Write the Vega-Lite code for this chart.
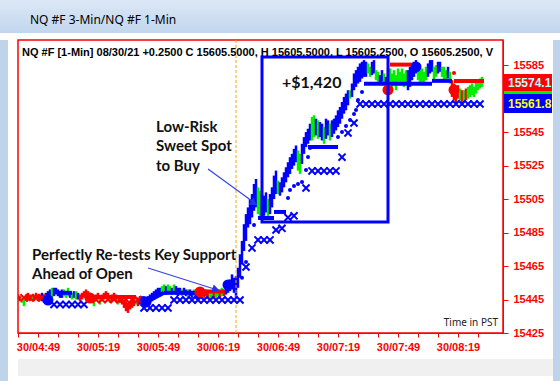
{
  "$schema": "https://vega.github.io/schema/vega-lite/v6.json",
  "padding": 0,
  "background": "white",
  "config": {"view": {"stroke": null}},
  "spacing": 5,
  "vconcat": [
    {
      "width": 560,
      "height": 33,
      "view": {"fill": "#c8dbef", "stroke": null},
      "title": {"text": "NQ #F 3-Min/NQ #F 1-Min", "anchor": "start", "dx": 30, "offset": -27, "font": "Noto Sans", "fontSize": 12, "fontWeight": "normal", "color": "#000000"},
      "data": {"values": [{}]},
      "mark": {"type": "rect", "color": {"gradient": "linear", "x1": 0, "y1": 0, "x2": 0, "y2": 1, "stops": [{"offset": 0, "color": "#dce8f6"}, {"offset": 1, "color": "#c1d6ed"}]}}
    },
    {
      "spacing": 0,
      "hconcat": [
        {
          "spacing": 7,
          "hconcat": [
            {
              "width": 8,
              "height": 343,
              "view": {"fill": "#bfd4eb", "stroke": null},
              "data": {"values": [{}]},
              "mark": {"type": "rect", "color": "#bfd4eb"}
            },
            {
              "spacing": 6,
              "vconcat": [
                {
                  "width": 485,
                  "height": 293,
                  "view": {"stroke": "#ff0000", "strokeWidth": 1.5},
                  "encoding": {
                    "x": {
                      "field": "t", "type": "temporal",
                      "scale": {"domain": [{"year": 1900, "month": 1, "date": 1, "hours": 4, "minutes": 39}, {"year": 1900, "month": 1, "date": 1, "hours": 8, "minutes": 41, "seconds": 30}]},
                      "axis": {
                        "title": null, "grid": false,
                        "values": [
                          {"year": 1900, "month": 1, "date": 1, "hours": 4, "minutes": 39},
                          {"year": 1900, "month": 1, "date": 1, "hours": 4, "minutes": 49},
                          {"year": 1900, "month": 1, "date": 1, "hours": 4, "minutes": 59},
                          {"year": 1900, "month": 1, "date": 1, "hours": 5, "minutes": 9},
                          {"year": 1900, "month": 1, "date": 1, "hours": 5, "minutes": 19},
                          {"year": 1900, "month": 1, "date": 1, "hours": 5, "minutes": 29},
                          {"year": 1900, "month": 1, "date": 1, "hours": 5, "minutes": 39},
                          {"year": 1900, "month": 1, "date": 1, "hours": 5, "minutes": 49},
                          {"year": 1900, "month": 1, "date": 1, "hours": 5, "minutes": 59},
                          {"year": 1900, "month": 1, "date": 1, "hours": 6, "minutes": 9},
                          {"year": 1900, "month": 1, "date": 1, "hours": 6, "minutes": 19},
                          {"year": 1900, "month": 1, "date": 1, "hours": 6, "minutes": 29},
                          {"year": 1900, "month": 1, "date": 1, "hours": 6, "minutes": 39},
                          {"year": 1900, "month": 1, "date": 1, "hours": 6, "minutes": 49},
                          {"year": 1900, "month": 1, "date": 1, "hours": 6, "minutes": 59},
                          {"year": 1900, "month": 1, "date": 1, "hours": 7, "minutes": 9},
                          {"year": 1900, "month": 1, "date": 1, "hours": 7, "minutes": 19},
                          {"year": 1900, "month": 1, "date": 1, "hours": 7, "minutes": 29},
                          {"year": 1900, "month": 1, "date": 1, "hours": 7, "minutes": 39},
                          {"year": 1900, "month": 1, "date": 1, "hours": 7, "minutes": 49},
                          {"year": 1900, "month": 1, "date": 1, "hours": 7, "minutes": 59},
                          {"year": 1900, "month": 1, "date": 1, "hours": 8, "minutes": 9},
                          {"year": 1900, "month": 1, "date": 1, "hours": 8, "minutes": 19},
                          {"year": 1900, "month": 1, "date": 1, "hours": 8, "minutes": 29}
                        ],
                        "labelExpr": "minutes(datum.value) % 30 == 19 ? '30/' + timeFormat(datum.value, '%H:%M') : ''",
                        "labelColor": "#ff0000", "labelFont": "Liberation Sans", "labelFontWeight": "bold", "labelFontSize": 11,
                        "tickColor": "#ff0000", "domainColor": "#ff0000", "tickSize": 4, "labelPadding": 4,
                        "labelOverlap": false, "labelFlush": false
                      }
                    },
                    "y": {
                      "field": "p", "type": "quantitative",
                      "scale": {"domain": [15425, 15600], "nice": false, "zero": false},
                      "axis": {
                        "title": null, "grid": false, "orient": "right",
                        "values": [15425, 15445, 15465, 15485, 15505, 15525, 15545, 15585],
                        "format": "d",
                        "labelColor": "#ff0000", "labelFont": "Liberation Sans", "labelFontWeight": "bold", "labelFontSize": 11,
                        "tickColor": "#ff0000", "domainColor": "#ff0000", "tickSize": 5, "labelPadding": 5
                      }
                    }
                  },
                  "layer": [
                    {
                      "data": {"format": {"parse": {"t": "date:'%H:%M'"}}, "values": [
                        {"t":"04:39","lo":15445,"hi":15448,"c":"r"},{"t":"04:40","lo":15444,"hi":15447,"c":"r"},{"t":"04:41","lo":15443,"hi":15446,"c":"g"},{"t":"04:42","lo":15441,"hi":15445,"c":"g"},
                        {"t":"04:43","lo":15444,"hi":15448,"c":"r"},{"t":"04:44","lo":15445,"hi":15449,"c":"r"},{"t":"04:45","lo":15444,"hi":15448,"c":"r"},{"t":"04:46","lo":15445,"hi":15448,"c":"g"},
                        {"t":"04:47","lo":15444,"hi":15447,"c":"r"},{"t":"04:48","lo":15445,"hi":15449,"c":"r"},{"t":"04:49","lo":15444,"hi":15448,"c":"r"},{"t":"04:50","lo":15445,"hi":15448,"c":"r"},
                        {"t":"04:51","lo":15444,"hi":15449,"c":"b"},{"t":"04:52","lo":15443,"hi":15448,"c":"b"},{"t":"04:53","lo":15444,"hi":15449,"c":"b"},{"t":"04:54","lo":15445,"hi":15450,"c":"b"},
                        {"t":"04:55","lo":15446,"hi":15451,"c":"b"},{"t":"04:56","lo":15446,"hi":15452,"c":"g"},{"t":"04:57","lo":15447,"hi":15452,"c":"b"},{"t":"04:58","lo":15448,"hi":15452,"c":"b"},
                        {"t":"04:59","lo":15447,"hi":15451,"c":"b"},{"t":"05:00","lo":15446,"hi":15450,"c":"b"},{"t":"05:01","lo":15446,"hi":15451,"c":"b"},{"t":"05:02","lo":15447,"hi":15451,"c":"g"},
                        {"t":"05:03","lo":15446,"hi":15450,"c":"g"},{"t":"05:04","lo":15447,"hi":15452,"c":"g"},{"t":"05:05","lo":15446,"hi":15450,"c":"b"},{"t":"05:06","lo":15445,"hi":15449,"c":"g"},
                        {"t":"05:07","lo":15446,"hi":15450,"c":"b"},{"t":"05:08","lo":15445,"hi":15450,"c":"g"},{"t":"05:09","lo":15445,"hi":15449,"c":"b"},{"t":"05:10","lo":15444,"hi":15448,"c":"r"},
                        {"t":"05:11","lo":15445,"hi":15449,"c":"r"},{"t":"05:12","lo":15446,"hi":15450,"c":"r"},{"t":"05:13","lo":15447,"hi":15451,"c":"r"},{"t":"05:14","lo":15446,"hi":15450,"c":"r"},
                        {"t":"05:15","lo":15445,"hi":15449,"c":"r"},{"t":"05:16","lo":15444,"hi":15447,"c":"g"},{"t":"05:17","lo":15441,"hi":15445,"c":"g"},{"t":"05:18","lo":15444,"hi":15448,"c":"r"},
                        {"t":"05:19","lo":15445,"hi":15449,"c":"r"},{"t":"05:20","lo":15442,"hi":15446,"c":"g"},{"t":"05:21","lo":15444,"hi":15448,"c":"r"},{"t":"05:22","lo":15445,"hi":15449,"c":"r"},
                        {"t":"05:23","lo":15446,"hi":15450,"c":"r"},{"t":"05:24","lo":15445,"hi":15449,"c":"r"},{"t":"05:25","lo":15443,"hi":15447,"c":"g"},{"t":"05:26","lo":15444,"hi":15448,"c":"r"},
                        {"t":"05:27","lo":15445,"hi":15449,"c":"r"},{"t":"05:28","lo":15444,"hi":15448,"c":"r"},{"t":"05:29","lo":15442,"hi":15446,"c":"g"},{"t":"05:30","lo":15443,"hi":15447,"c":"r"},
                        {"t":"05:31","lo":15442,"hi":15446,"c":"r"},{"t":"05:32","lo":15440,"hi":15445,"c":"r"},{"t":"05:33","lo":15438,"hi":15444,"c":"r"},{"t":"05:34","lo":15437,"hi":15443,"c":"r"},
                        {"t":"05:35","lo":15439,"hi":15444,"c":"r"},{"t":"05:36","lo":15440,"hi":15445,"c":"r"},{"t":"05:37","lo":15441,"hi":15446,"c":"r"},{"t":"05:38","lo":15442,"hi":15446,"c":"g"},
                        {"t":"05:39","lo":15441,"hi":15446,"c":"r"},{"t":"05:40","lo":15442,"hi":15447,"c":"b"},{"t":"05:41","lo":15443,"hi":15447,"c":"b"},{"t":"05:42","lo":15442,"hi":15447,"c":"b"},
                        {"t":"05:43","lo":15441,"hi":15446,"c":"b"},{"t":"05:44","lo":15442,"hi":15447,"c":"b"},{"t":"05:45","lo":15443,"hi":15448,"c":"b"},{"t":"05:46","lo":15444,"hi":15449,"c":"b"},
                        {"t":"05:47","lo":15445,"hi":15450,"c":"b"},{"t":"05:48","lo":15446,"hi":15451,"c":"b"},{"t":"05:49","lo":15447,"hi":15452,"c":"b"},{"t":"05:50","lo":15447,"hi":15452,"c":"b"},
                        {"t":"05:51","lo":15448,"hi":15453,"c":"g"},{"t":"05:52","lo":15449,"hi":15454,"c":"g"},{"t":"05:53","lo":15448,"hi":15453,"c":"b"},{"t":"05:54","lo":15450,"hi":15454,"c":"g"},
                        {"t":"05:55","lo":15449,"hi":15453,"c":"g"},{"t":"05:56","lo":15448,"hi":15452,"c":"b"},{"t":"05:57","lo":15449,"hi":15454,"c":"g"},{"t":"05:58","lo":15448,"hi":15453,"c":"b"},
                        {"t":"05:59","lo":15447,"hi":15452,"c":"b"},{"t":"06:00","lo":15448,"hi":15452,"c":"b"},{"t":"06:01","lo":15447,"hi":15451,"c":"g"},{"t":"06:02","lo":15448,"hi":15452,"c":"b"},
                        {"t":"06:03","lo":15447,"hi":15451,"c":"b"},{"t":"06:04","lo":15446,"hi":15451,"c":"g"},{"t":"06:05","lo":15447,"hi":15451,"c":"b"},{"t":"06:06","lo":15446,"hi":15450,"c":"b"},
                        {"t":"06:07","lo":15447,"hi":15451,"c":"g"},{"t":"06:08","lo":15446,"hi":15450,"c":"b"},{"t":"06:09","lo":15445,"hi":15450,"c":"b"},{"t":"06:10","lo":15446,"hi":15451,"c":"r"},
                        {"t":"06:11","lo":15447,"hi":15451,"c":"r"},{"t":"06:12","lo":15446,"hi":15450,"c":"r"},{"t":"06:13","lo":15447,"hi":15451,"c":"r"},{"t":"06:14","lo":15446,"hi":15450,"c":"r"},
                        {"t":"06:15","lo":15446,"hi":15450,"c":"g"},{"t":"06:16","lo":15445,"hi":15450,"c":"g"},{"t":"06:17","lo":15446,"hi":15451,"c":"r"},{"t":"06:18","lo":15446,"hi":15450,"c":"g"},
                        {"t":"06:19","lo":15447,"hi":15451,"c":"g"},{"t":"06:20","lo":15446,"hi":15450,"c":"r"},{"t":"06:21","lo":15447,"hi":15452,"c":"g"},{"t":"06:22","lo":15447,"hi":15451,"c":"r"},
                        {"t":"06:23","lo":15448,"hi":15453,"c":"b"},{"t":"06:24","lo":15449,"hi":15455,"c":"b"},{"t":"06:25","lo":15450,"hi":15457,"c":"b"},{"t":"06:26","lo":15451,"hi":15460,"c":"b"},
                        {"t":"06:27","lo":15449,"hi":15458,"c":"b"},
                        {"t":"06:28","lo":15446,"hi":15459,"c":"b"},{"t":"06:29","lo":15452,"hi":15464,"c":"b"},{"t":"06:30","lo":15458,"hi":15472,"c":"b"},{"t":"06:31","lo":15466,"hi":15480,"c":"b"},
                        {"t":"06:32","lo":15474,"hi":15490,"c":"b"},{"t":"06:33","lo":15480,"hi":15496,"c":"b"},{"t":"06:34","lo":15488,"hi":15500,"c":"b"},{"t":"06:35","lo":15490,"hi":15505,"c":"b"},
                        {"t":"06:36","lo":15494,"hi":15508,"c":"b"},{"t":"06:37","lo":15498,"hi":15514,"c":"b"},{"t":"06:38","lo":15500,"hi":15517,"c":"b"},{"t":"06:39","lo":15496,"hi":15512,"c":"g"},
                        {"t":"06:40","lo":15495,"hi":15510,"c":"g"},{"t":"06:41","lo":15494,"hi":15508,"c":"b"},{"t":"06:42","lo":15495,"hi":15507,"c":"b"},{"t":"06:43","lo":15497,"hi":15509,"c":"b"},
                        {"t":"06:44","lo":15493,"hi":15505,"c":"g"},{"t":"06:45","lo":15496,"hi":15508,"c":"b"},{"t":"06:46","lo":15500,"hi":15512,"c":"b"},{"t":"06:47","lo":15505,"hi":15519,"c":"b"},
                        {"t":"06:48","lo":15508,"hi":15522,"c":"b"},{"t":"06:49","lo":15508,"hi":15516,"c":"g"},{"t":"06:50","lo":15507,"hi":15515,"c":"b"},{"t":"06:51","lo":15509,"hi":15518,"c":"b"},
                        {"t":"06:52","lo":15512,"hi":15521,"c":"b"},{"t":"06:53","lo":15515,"hi":15524,"c":"b"},{"t":"06:54","lo":15518,"hi":15527,"c":"b"},{"t":"06:55","lo":15520,"hi":15530,"c":"b"},
                        {"t":"06:56","lo":15523,"hi":15532,"c":"b"},{"t":"06:57","lo":15525,"hi":15535,"c":"b"},{"t":"06:58","lo":15527,"hi":15537,"c":"b"},{"t":"06:59","lo":15522,"hi":15534,"c":"g"},
                        {"t":"07:00","lo":15520,"hi":15532,"c":"g"},{"t":"07:01","lo":15526,"hi":15538,"c":"b"},{"t":"07:02","lo":15532,"hi":15542,"c":"b"},{"t":"07:03","lo":15536,"hi":15545,"c":"b"},
                        {"t":"07:04","lo":15538,"hi":15547,"c":"b"},{"t":"07:05","lo":15540,"hi":15550,"c":"b"},{"t":"07:06","lo":15540,"hi":15554,"c":"g"},{"t":"07:07","lo":15542,"hi":15555,"c":"g"},
                        {"t":"07:08","lo":15543,"hi":15553,"c":"b"},{"t":"07:09","lo":15541,"hi":15552,"c":"g"},{"t":"07:10","lo":15542,"hi":15551,"c":"b"},{"t":"07:11","lo":15540,"hi":15550,"c":"b"},
                        {"t":"07:12","lo":15538,"hi":15548,"c":"g"},{"t":"07:13","lo":15541,"hi":15553,"c":"b"},{"t":"07:14","lo":15543,"hi":15552,"c":"b"},{"t":"07:15","lo":15540,"hi":15550,"c":"g"},
                        {"t":"07:16","lo":15542,"hi":15552,"c":"b"},{"t":"07:17","lo":15544,"hi":15553,"c":"b"},{"t":"07:18","lo":15546,"hi":15555,"c":"b"},{"t":"07:19","lo":15548,"hi":15558,"c":"b"},
                        {"t":"07:20","lo":15550,"hi":15560,"c":"b"},{"t":"07:21","lo":15553,"hi":15563,"c":"b"},{"t":"07:22","lo":15556,"hi":15566,"c":"b"},{"t":"07:23","lo":15558,"hi":15568,"c":"b"},
                        {"t":"07:24","lo":15561,"hi":15570,"c":"b"},{"t":"07:25","lo":15565,"hi":15570,"c":"g"},{"t":"07:26","lo":15566,"hi":15574,"c":"b"},{"t":"07:27","lo":15570,"hi":15580,"c":"b"},
                        {"t":"07:28","lo":15572,"hi":15582,"c":"b"},{"t":"07:29","lo":15574,"hi":15584,"c":"b"},{"t":"07:30","lo":15575,"hi":15586,"c":"b"},{"t":"07:31","lo":15577,"hi":15587,"c":"b"},
                        {"t":"07:32","lo":15578,"hi":15588,"c":"b"},{"t":"07:33","lo":15578,"hi":15587,"c":"b"},{"t":"07:34","lo":15580,"hi":15586,"c":"g"},{"t":"07:35","lo":15578,"hi":15584,"c":"g"},
                        {"t":"07:36","lo":15579,"hi":15587,"c":"b"},{"t":"07:37","lo":15580,"hi":15588,"c":"b"},{"t":"07:38","lo":15576,"hi":15582,"c":"g"},{"t":"07:39","lo":15575,"hi":15581,"c":"g"},
                        {"t":"07:40","lo":15574,"hi":15579,"c":"b"},{"t":"07:41","lo":15575,"hi":15582,"c":"b"},{"t":"07:42","lo":15573,"hi":15580,"c":"g"},{"t":"07:43","lo":15570,"hi":15578,"c":"b"},
                        {"t":"07:44","lo":15568,"hi":15582,"c":"r"},{"t":"07:45","lo":15574,"hi":15583,"c":"g"},{"t":"07:46","lo":15572,"hi":15580,"c":"g"},{"t":"07:47","lo":15574,"hi":15582,"c":"g"},
                        {"t":"07:48","lo":15570,"hi":15579,"c":"g"},{"t":"07:49","lo":15575,"hi":15583,"c":"g"},{"t":"07:50","lo":15573,"hi":15581,"c":"g"},{"t":"07:51","lo":15575,"hi":15583,"c":"g"},
                        {"t":"07:52","lo":15572,"hi":15580,"c":"g"},{"t":"07:53","lo":15574,"hi":15582,"c":"g"},{"t":"07:54","lo":15570,"hi":15582,"c":"b"},{"t":"07:55","lo":15572,"hi":15584,"c":"b"},
                        {"t":"07:56","lo":15576,"hi":15585,"c":"b"},{"t":"07:57","lo":15578,"hi":15587,"c":"b"},{"t":"07:58","lo":15580,"hi":15588,"c":"b"},{"t":"07:59","lo":15576,"hi":15583,"c":"g"},
                        {"t":"08:00","lo":15574,"hi":15582,"c":"g"},{"t":"08:01","lo":15575,"hi":15583,"c":"g"},{"t":"08:02","lo":15573,"hi":15581,"c":"g"},{"t":"08:03","lo":15576,"hi":15584,"c":"g"},
                        {"t":"08:04","lo":15578,"hi":15586,"c":"b"},{"t":"08:05","lo":15580,"hi":15588,"c":"b"},{"t":"08:06","lo":15581,"hi":15588,"c":"b"},{"t":"08:07","lo":15576,"hi":15584,"c":"g"},
                        {"t":"08:08","lo":15578,"hi":15585,"c":"g"},{"t":"08:09","lo":15580,"hi":15587,"c":"b"},{"t":"08:10","lo":15581,"hi":15587,"c":"b"},{"t":"08:11","lo":15578,"hi":15584,"c":"g"},
                        {"t":"08:12","lo":15576,"hi":15584,"c":"g"},{"t":"08:13","lo":15575,"hi":15582,"c":"g"},{"t":"08:14","lo":15577,"hi":15584,"c":"b"},{"t":"08:15","lo":15574,"hi":15581,"c":"g"},
                        {"t":"08:16","lo":15566,"hi":15576,"c":"r"},{"t":"08:17","lo":15564,"hi":15574,"c":"r"},{"t":"08:18","lo":15562,"hi":15572,"c":"r"},{"t":"08:19","lo":15565,"hi":15573,"c":"r"},
                        {"t":"08:20","lo":15564,"hi":15571,"c":"g"},{"t":"08:21","lo":15562,"hi":15570,"c":"r"},{"t":"08:22","lo":15563,"hi":15570,"c":"g"},{"t":"08:23","lo":15564,"hi":15571,"c":"r"},
                        {"t":"08:24","lo":15565,"hi":15572,"c":"g"},{"t":"08:25","lo":15566,"hi":15573,"c":"g"},{"t":"08:26","lo":15567,"hi":15574,"c":"g"},{"t":"08:27","lo":15566,"hi":15572,"c":"g"},
                        {"t":"08:28","lo":15568,"hi":15575,"c":"g"},{"t":"08:29","lo":15570,"hi":15576,"c":"g"},{"t":"08:30","lo":15571,"hi":15577,"c":"g"},{"t":"08:31","lo":15572,"hi":15578,"c":"g"}
                      ]},
                      "mark": {"type": "rule", "strokeWidth": 2.5, "clip": true},
                      "encoding": {
                        "y": {"field": "lo", "type": "quantitative"},
                        "y2": {"field": "hi"},
                        "color": {"field": "c", "type": "nominal", "legend": null, "scale": {"domain": ["b", "g", "r"], "range": ["#0000ff", "#00ee00", "#ff0000"]}}
                      }
                    },
                    {
                      "data": {"format": {"parse": {"t": "date:'%H:%M'"}}, "values": [{"t": "06:28"}]},
                      "mark": {"type": "rule", "color": "#ffa500", "strokeWidth": 1, "strokeDash": [3, 2]},
                      "encoding": {"y": {"value": 0}, "y2": {"value": 293}}
                    },
                    {
                      "data": {"format": {"parse": {"t": "date:'%H:%M'", "t2": "date:'%H:%M'"}}, "values": [
                        {"t":"04:59","t2":"05:06","p":15449,"p2":15449,"c":"b"},
                        {"t":"05:16","t2":"05:38","p":15446.5,"p2":15446.5,"c":"r"},
                        {"t":"05:44","t2":"05:52","p":15444,"p2":15449,"c":"b"},
                        {"t":"05:52","t2":"06:08","p":15449,"p2":15449,"c":"b"},
                        {"t":"06:10","t2":"06:22","p":15449.8,"p2":15449.8,"c":"r"},
                        {"t":"06:39","t2":"06:47","p":15493.7,"p2":15493.7,"c":"b"},
                        {"t":"06:47","t2":"06:53","p":15497.3,"p2":15497.3,"c":"b"},
                        {"t":"07:04","t2":"07:19","p":15536.1,"p2":15536.1,"c":"b"},
                        {"t":"07:32","t2":"08:06","p":15573.8,"p2":15573.8,"c":"b"},
                        {"t":"08:06","t2":"08:16","p":15575.6,"p2":15575.6,"c":"b"},
                        {"t":"07:45","t2":"07:57","p":15585.3,"p2":15585.3,"c":"r"},
                        {"t":"08:17","t2":"08:32","p":15575.5,"p2":15575.5,"c":"r"}
                      ]},
                      "mark": {"type": "rule", "strokeWidth": 4},
                      "encoding": {
                        "x2": {"field": "t2"},
                        "y2": {"field": "p2"},
                        "color": {"field": "c", "type": "nominal", "legend": null}
                      }
                    },
                    {
                      "data": {"format": {"parse": {"t": "date:'%H:%M'"}}, "values": [
                        {"t":"04:42","p":15446,"c":"r"},{"t":"04:45","p":15446,"c":"r"},{"t":"04:48","p":15446,"c":"r"},{"t":"04:51","p":15446,"c":"r"},
                        {"t":"05:18","p":15445,"c":"r"},{"t":"05:21","p":15445,"c":"r"},{"t":"05:24","p":15445,"c":"r"},{"t":"05:27","p":15445,"c":"r"},{"t":"05:30","p":15445,"c":"r"},{"t":"05:33","p":15445,"c":"r"},{"t":"05:36","p":15445,"c":"r"},{"t":"05:39","p":15445,"c":"r"},
                        {"t":"04:57","p":15442,"c":"b"},{"t":"05:00","p":15442,"c":"b"},{"t":"05:03","p":15442,"c":"b"},{"t":"05:06","p":15442,"c":"b"},{"t":"05:09","p":15442,"c":"b"},{"t":"05:12","p":15442,"c":"b"},
                        {"t":"05:42","p":15440,"c":"b"},{"t":"05:45","p":15440,"c":"b"},{"t":"05:48","p":15440,"c":"b"},{"t":"05:51","p":15440,"c":"b"},{"t":"05:54","p":15440,"c":"b"},
                        {"t":"05:57","p":15444.7,"c":"b"},{"t":"06:00","p":15444.7,"c":"b"},{"t":"06:03","p":15444.7,"c":"b"},{"t":"06:06","p":15444.7,"c":"b"},{"t":"06:09","p":15444.7,"c":"b"},{"t":"06:12","p":15444.7,"c":"b"},
                        {"t":"06:15","p":15444.7,"c":"b"},{"t":"06:18","p":15444.7,"c":"b"},{"t":"06:21","p":15444.7,"c":"b"},{"t":"06:24","p":15444.7,"c":"b"},{"t":"06:27","p":15444.7,"c":"b"},{"t":"06:30","p":15444.7,"c":"b"},
                        {"t":"06:33","p":15464.4,"c":"b"},{"t":"06:36","p":15475.8,"c":"b"},{"t":"06:39","p":15480.6,"c":"b"},{"t":"06:42","p":15480.6,"c":"b"},{"t":"06:45","p":15480.6,"c":"b"},
                        {"t":"06:48","p":15486.5,"c":"b"},{"t":"06:51","p":15487.5,"c":"b"},{"t":"06:54","p":15494,"c":"b"},{"t":"06:57","p":15495,"c":"b"},{"t":"07:03","p":15511.6,"c":"b"},
                        {"t":"07:06","p":15521.8,"c":"b"},{"t":"07:09","p":15521.8,"c":"b"},{"t":"07:12","p":15521.8,"c":"b"},{"t":"07:15","p":15521.8,"c":"b"},{"t":"07:18","p":15521.8,"c":"b"},
                        {"t":"07:21","p":15530,"c":"b"},{"t":"07:24","p":15544.5,"c":"b"},{"t":"07:27","p":15550.4,"c":"b"},
                        {"t":"07:30","p":15561.8,"c":"b"},{"t":"07:33","p":15561.8,"c":"b"},{"t":"07:36","p":15561.8,"c":"b"},{"t":"07:39","p":15561.8,"c":"b"},{"t":"07:42","p":15561.8,"c":"b"},
                        {"t":"07:45","p":15561.8,"c":"b"},{"t":"07:48","p":15561.8,"c":"b"},{"t":"07:51","p":15561.8,"c":"b"},{"t":"07:54","p":15561.8,"c":"b"},{"t":"07:57","p":15561.8,"c":"b"},
                        {"t":"08:00","p":15561.8,"c":"b"},{"t":"08:03","p":15561.8,"c":"b"},{"t":"08:06","p":15561.8,"c":"b"},{"t":"08:09","p":15561.8,"c":"b"},{"t":"08:12","p":15561.8,"c":"b"},
                        {"t":"08:15","p":15561.8,"c":"b"},{"t":"08:18","p":15561.8,"c":"b"},{"t":"08:21","p":15561.8,"c":"b"},{"t":"08:24","p":15561.8,"c":"b"},{"t":"08:27","p":15561.8,"c":"b"},{"t":"08:30","p":15561.8,"c":"b"}
                      ]},
                      "mark": {"type": "point", "shape": "M-1,-1L1,1M-1,1L1,-1", "filled": false, "strokeWidth": 2, "size": 50, "opacity": 1},
                      "encoding": {"color": {"field": "c", "type": "nominal", "legend": null}}
                    },
                    {
                      "data": {"format": {"parse": {"t": "date:'%H:%M'"}}, "values": [
                        {"t":"06:31","p":15458,"c":"b"},{"t":"06:33","p":15467.4,"c":"b"},{"t":"06:37","p":15489.5,"c":"b"},
                        {"t":"06:54","p":15505.6,"c":"b"},{"t":"06:55","p":15510.4,"c":"b"},{"t":"06:57","p":15512.8,"c":"b"},{"t":"06:59","p":15514,"c":"b"},
                        {"t":"07:01","p":15515.2,"c":"b"},{"t":"07:03","p":15522.4,"c":"b"},{"t":"07:04","p":15530.1,"c":"b"},{"t":"07:05","p":15535.5,"c":"b"},
                        {"t":"07:19","p":15542.1,"c":"b"},{"t":"07:21","p":15545.1,"c":"b"},{"t":"07:23","p":15548.7,"c":"b"},{"t":"07:25","p":15552.2,"c":"b"},
                        {"t":"07:27","p":15555.8,"c":"b"},{"t":"07:28","p":15558.2,"c":"b"},{"t":"07:29","p":15564.2,"c":"b"},{"t":"07:31","p":15569,"c":"b"},
                        {"t":"08:17","p":15580.3,"c":"r"}
                      ]},
                      "mark": {"type": "point", "shape": "circle", "filled": true, "size": 16, "opacity": 1},
                      "encoding": {"color": {"field": "c", "type": "nominal", "legend": null}}
                    },
                    {
                      "data": {"format": {"parse": {"t": "date:'%H:%M'"}}, "values": [
                        {"t":"04:54","p":15444.7,"c":"b"},{"t":"05:15","p":15445.9,"c":"r"},{"t":"05:43","p":15443.5,"c":"b"},{"t":"06:10","p":15449.5,"c":"r"},
                        {"t":"06:24","p":15453.7,"c":"b"},{"t":"07:44","p":15570.2,"c":"r"},{"t":"07:58","p":15583.9,"c":"b"},{"t":"08:17","p":15570.2,"c":"r"}
                      ]},
                      "mark": {"type": "point", "shape": "circle", "filled": true, "size": 120, "opacity": 1},
                      "encoding": {"color": {"field": "c", "type": "nominal", "legend": null}}
                    },
                    {
                      "data": {"format": {"parse": {"t": "date:'%H:%M'", "t2": "date:'%H:%M'"}}, "values": [
                        {"t": "06:41", "t2": "07:44", "p": 15589.9, "p2": 15491.3}
                      ]},
                      "mark": {"type": "rect", "fill": null, "fillOpacity": 0, "stroke": "#0000ff", "strokeWidth": 3},
                      "encoding": {"x2": {"field": "t2"}, "y2": {"field": "p2"}}
                    },
                    {
                      "data": {"format": {"parse": {"t": "date:'%H:%M'", "t2": "date:'%H:%M'"}}, "values": [
                        {"t": "06:14", "p": 15523, "t2": "06:37", "p2": 15503},
                        {"t": "05:44", "p": 15463.8, "t2": "06:18", "p2": 15451}
                      ]},
                      "mark": {"type": "rule", "color": "#3344ee", "strokeWidth": 1.2},
                      "encoding": {"x2": {"field": "t2"}, "y2": {"field": "p2"}}
                    },
                    {
                      "data": {"format": {"parse": {"t": "date:'%H:%M'"}}, "values": [{"t": "06:37", "p": 15502.5}]},
                      "mark": {"type": "point", "shape": "triangle-right", "filled": true, "size": 70, "angle": 35, "color": "#2233ee", "opacity": 1}
                    },
                    {
                      "data": {"format": {"parse": {"t": "date:'%H:%M'"}}, "values": [{"t": "06:18", "p": 15451}]},
                      "mark": {"type": "point", "shape": "triangle-right", "filled": true, "size": 70, "angle": 17, "color": "#2233ee", "opacity": 1}
                    },
                    {
                      "data": {"format": {"parse": {"t": "date:'%H:%M'"}}, "values": [
                        {"t": "05:48", "p": 15548.1, "label": "Low-Risk\nSweet Spot\nto Buy"},
                        {"t": "04:46", "p": 15471.6, "label": "Perfectly Re-tests Key Support\nAhead of Open"}
                      ]},
                      "mark": {"type": "text", "align": "left", "baseline": "middle", "font": "Lato", "fontWeight": "bold", "fontSize": 15, "lineHeight": 19.5, "lineBreak": "\n", "color": "#111111"},
                      "encoding": {"text": {"field": "label"}}
                    },
                    {
                      "data": {"format": {"parse": {"t": "date:'%H:%M'"}}, "values": [{"t": "06:51", "p": 15574.3, "label": "+$1,420"}]},
                      "mark": {"type": "text", "align": "left", "baseline": "middle", "font": "Lato", "fontWeight": "bold", "fontSize": 16, "color": "#111111"},
                      "encoding": {"text": {"field": "label"}}
                    },
                    {
                      "data": {"format": {"parse": {"t": "date:'%H:%M'"}}, "values": [{"t": "04:41", "p": 15592.3, "label": "NQ #F [1-Min] 08/30/21  +0.2500 C 15605.5000, H 15605.5000, L 15605.2500, O 15605.2500, V"}]},
                      "mark": {"type": "text", "align": "left", "baseline": "middle", "font": "Liberation Sans", "fontWeight": "bold", "fontSize": 11, "color": "#000000", "clip": true},
                      "encoding": {"text": {"field": "label"}}
                    },
                    {
                      "data": {"format": {"parse": {"t": "date:'%H:%M'"}}, "values": [{"t": "08:39", "p": 15431, "label": "Time in PST"}]},
                      "mark": {"type": "text", "align": "right", "baseline": "middle", "font": "Noto Sans", "fontSize": 10, "color": "#222222"},
                      "encoding": {"text": {"field": "label"}}
                    },
                    {
                      "data": {"format": {"parse": {"t": "date:'%H:%M'", "t2": "date:'%H:%M'"}}, "values": [
                        {"t": "08:42", "t2": "09:06", "p": 15569.5, "p2": 15579.7, "c": "r"},
                        {"t": "08:42", "t2": "09:06", "p": 15567.8, "p2": 15569.5, "c": "g"},
                        {"t": "08:42", "t2": "09:06", "p": 15556.4, "p2": 15567.8, "c": "b"}
                      ]},
                      "mark": {"type": "rect", "clip": false},
                      "encoding": {"x2": {"field": "t2"}, "y2": {"field": "p2"}, "color": {"field": "c", "type": "nominal", "legend": null}}
                    },
                    {
                      "data": {"format": {"parse": {"t": "date:'%H:%M'"}}, "values": [{"t": "08:44", "p": 15574.1, "label": "15574.1"}]},
                      "mark": {"type": "text", "align": "left", "baseline": "middle", "font": "Liberation Sans", "fontWeight": "bold", "fontSize": 12, "color": "#b8ffff"},
                      "encoding": {"text": {"field": "label"}}
                    },
                    {
                      "data": {"format": {"parse": {"t": "date:'%H:%M'"}}, "values": [{"t": "08:44", "p": 15561.8, "label": "15561.8"}]},
                      "mark": {"type": "text", "align": "left", "baseline": "middle", "font": "Liberation Sans", "fontWeight": "bold", "fontSize": 12, "color": "#ffff00"},
                      "encoding": {"text": {"field": "label"}}
                    }
                  ]
                },
                {
                  "width": 535,
                  "height": 17,
                  "view": {"fill": "#f0f0f0", "stroke": null},
                  "data": {"values": [{}]},
                  "mark": {"type": "rect", "color": "#f0f0f0"}
                }
              ]
            }
          ]
        },
        {
          "width": 8,
          "height": 343,
          "view": {"fill": "#bfd4eb", "stroke": null},
          "data": {"values": [{}]},
          "mark": {"type": "rect", "color": "#bfd4eb"}
        }
      ]
    }
  ]
}
